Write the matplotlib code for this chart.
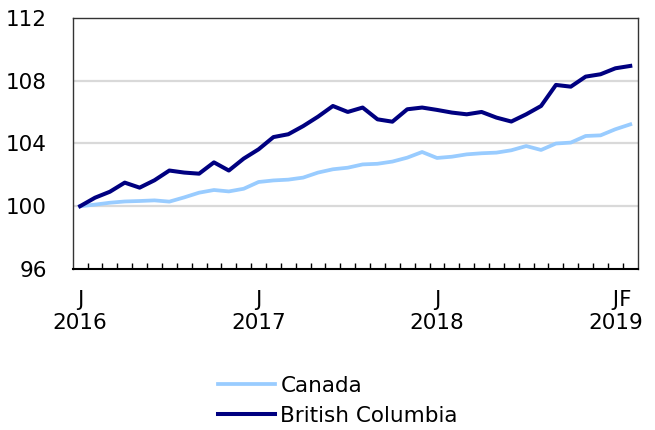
import matplotlib.pyplot as plt
import numpy as np

# monthly index, January 2016 = 100, Jan 2016 .. Feb 2019
canada = [100.0, 100.10, 100.22, 100.30, 100.33, 100.37, 100.29, 100.56, 100.86, 101.03,
          100.94, 101.11, 101.54, 101.64, 101.69, 101.82, 102.14, 102.35, 102.45, 102.66,
          102.70, 102.84, 103.09, 103.45, 103.07, 103.15, 103.30, 103.37, 103.41, 103.56,
          103.83, 103.58, 103.99, 104.05, 104.47, 104.51, 104.90, 105.21]
british_columbia = [100.0, 100.54, 100.92, 101.50, 101.18, 101.65, 102.27, 102.14, 102.07, 102.79,
                    102.27, 103.03, 103.62, 104.40, 104.58, 105.10, 105.70, 106.38, 106.00, 106.28,
                    105.53, 105.38, 106.17, 106.28, 106.13, 105.96, 105.85, 106.00, 105.64, 105.39,
                    105.85, 106.38, 107.72, 107.61, 108.25, 108.40, 108.78, 108.93]

tick_pos = [0, 12, 24, 36]
# last label carries both Jan and Feb 2019 ("JF"), nudged right with leading spaces
tick_labels = ['J\n2016', 'J\n2017', 'J\n2018', '  JF\n2019']
y_ticks = [96, 100, 104, 108, 112]

FS = 15.5

fig = plt.figure(figsize=(6.55, 4.3), dpi=100)
ax = fig.add_axes([0.111, 0.3744, 0.8626, 0.5844])

x = np.arange(len(canada))
ax.plot(x, canada, color='#99ccff', lw=2.7, label='Canada', zorder=3)
ax.plot(x, british_columbia, color='#000080', lw=2.9, label='British Columbia', zorder=4)

ax.set_xlim(-0.5, len(canada) - 0.5)
ax.set_ylim(96, 112)
ax.set_yticks(y_ticks)
ax.set_yticklabels([str(v) for v in y_ticks], fontsize=FS)
ax.tick_params(axis='y', length=0, pad=18.5)
for v in [100, 104, 108]:
    ax.axhline(v, color='#d9d9d9', lw=1.6, zorder=1)

ax.set_xticks(tick_pos)
ax.set_xticklabels(tick_labels, fontsize=FS, linespacing=1.2)
ax.tick_params(axis='x', which='major', length=0, pad=15)
ax.set_xticks(np.arange(0.5, len(canada) - 0.5, 1), minor=True)
ax.tick_params(axis='x', which='minor', direction='in', length=4.5, width=1, color='black')

for s in ['top', 'right', 'left']:
    ax.spines[s].set_color('#333333')
    ax.spines[s].set_linewidth(1)
ax.spines['bottom'].set_color('black')
ax.spines['bottom'].set_linewidth(1.5)

fig.legend(loc='upper left', bbox_to_anchor=(218 / 655, 1 - 376 / 430), frameon=False,
           fontsize=FS, handlelength=2.65, handletextpad=0.25, labelspacing=0.45,
           borderpad=0, borderaxespad=0)

fig.savefig('out.png', dpi=100)
